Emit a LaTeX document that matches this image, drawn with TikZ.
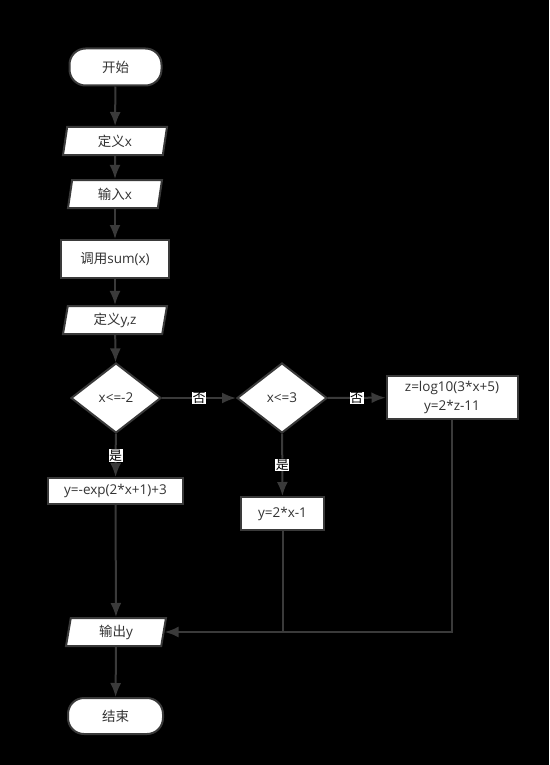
\documentclass[tikz,border=0pt]{standalone}
\usepackage{fontspec}
\setmainfont{Open Sans}
\newfontfamily\cjk{Noto Sans CJK SC}
\usetikzlibrary{shapes.geometric,arrows.meta}

\definecolor{linegray}{HTML}{3A3A3A}
\definecolor{textgray}{HTML}{333333}

\tikzset{
  box/.style={draw=linegray, line width=2pt, fill=white, text=textgray,
    inner sep=1pt, font=\fontsize{13.5pt}{19pt}\selectfont},
  startstop/.style={box, rounded corners=16pt, minimum width=92pt, minimum height=37pt},
  io/.style={box, trapezium, trapezium left angle=74, trapezium right angle=106,
    trapezium stretches body, minimum height=28pt},
  process/.style={box, rectangle, align=center},
  decision/.style={box, diamond, minimum width=90pt, minimum height=70pt, inner sep=0pt},
  flow/.style={draw=linegray, line width=2pt, -{Latex[length=14pt,width=11pt]}},
  link/.style={draw=linegray, line width=2pt},
  tag/.style={fill=white, text=black, inner sep=0.6pt, font=\cjk\fontsize{13pt}{14pt}\selectfont}
}

\begin{document}
\begin{tikzpicture}[x=1pt, y=-1pt]
    % background
    \fill[black] (0,0) rectangle (549,765);
    \useasboundingbox (0,0) rectangle (549,765);
    % nodes
    \node[startstop] (start) at (115.5,67) {{\cjk 开始}};
    \node[io, minimum width=104pt] (defx) at (115,141) {{\cjk 定义}x};
    \node[io, minimum width=94pt] (inx) at (115,194) {{\cjk 输入}x};
    \node[process, minimum width=108pt, minimum height=38pt] (call) at (115,259) {{\cjk 调用}sum(x)};
    \node[io, minimum width=104pt] (defyz) at (115,320) {{\cjk 定义}y,z};
    \node[decision] (cond1) at (116,398) {x<=-2};
    \node[decision] (cond2) at (282,398) {x<=3};
    \node[process, minimum width=131pt, minimum height=43pt] (calc3) at (452,397.5)
        {z=log10(3*x+5)\\ y=2*z-11};
    \node[process, minimum width=135pt, minimum height=26pt] (calc1) at (115.5,491) {y=-exp(2*x+1)+3};
    \node[process, minimum width=83pt, minimum height=33pt] (calc2) at (282.5,513.5) {y=2*x-1};
    \node[io, minimum width=100pt] (outy) at (116,632) {{\cjk 输出}y};
    \node[startstop, minimum width=95pt, minimum height=36pt] (stop) at (115.5,716) {{\cjk 结束}};
    % connectors
    \draw[flow] (start) -- (defx);
    \draw[flow] (defx) -- (inx);
    \draw[flow] (inx) -- (call);
    \draw[flow] (call) -- (defyz);
    \draw[flow] (defyz) -- (cond1);
    \draw[flow] (cond1) -- node[tag] {否} (cond2);
    \draw[flow] (cond2) -- node[tag] {否} (calc3);
    \draw[flow] (cond1) -- node[tag] {是} (calc1);
    \draw[flow] (cond2) -- node[tag] {是} (calc2);
    \draw[flow] (calc1) -- (outy);
    \draw[link] (calc2.south) -- (calc2.south |- outy.east);
    \draw[flow] (calc3.south) |- (outy.east);
    \draw[flow] (outy) -- (stop);
\end{tikzpicture}
\end{document}
